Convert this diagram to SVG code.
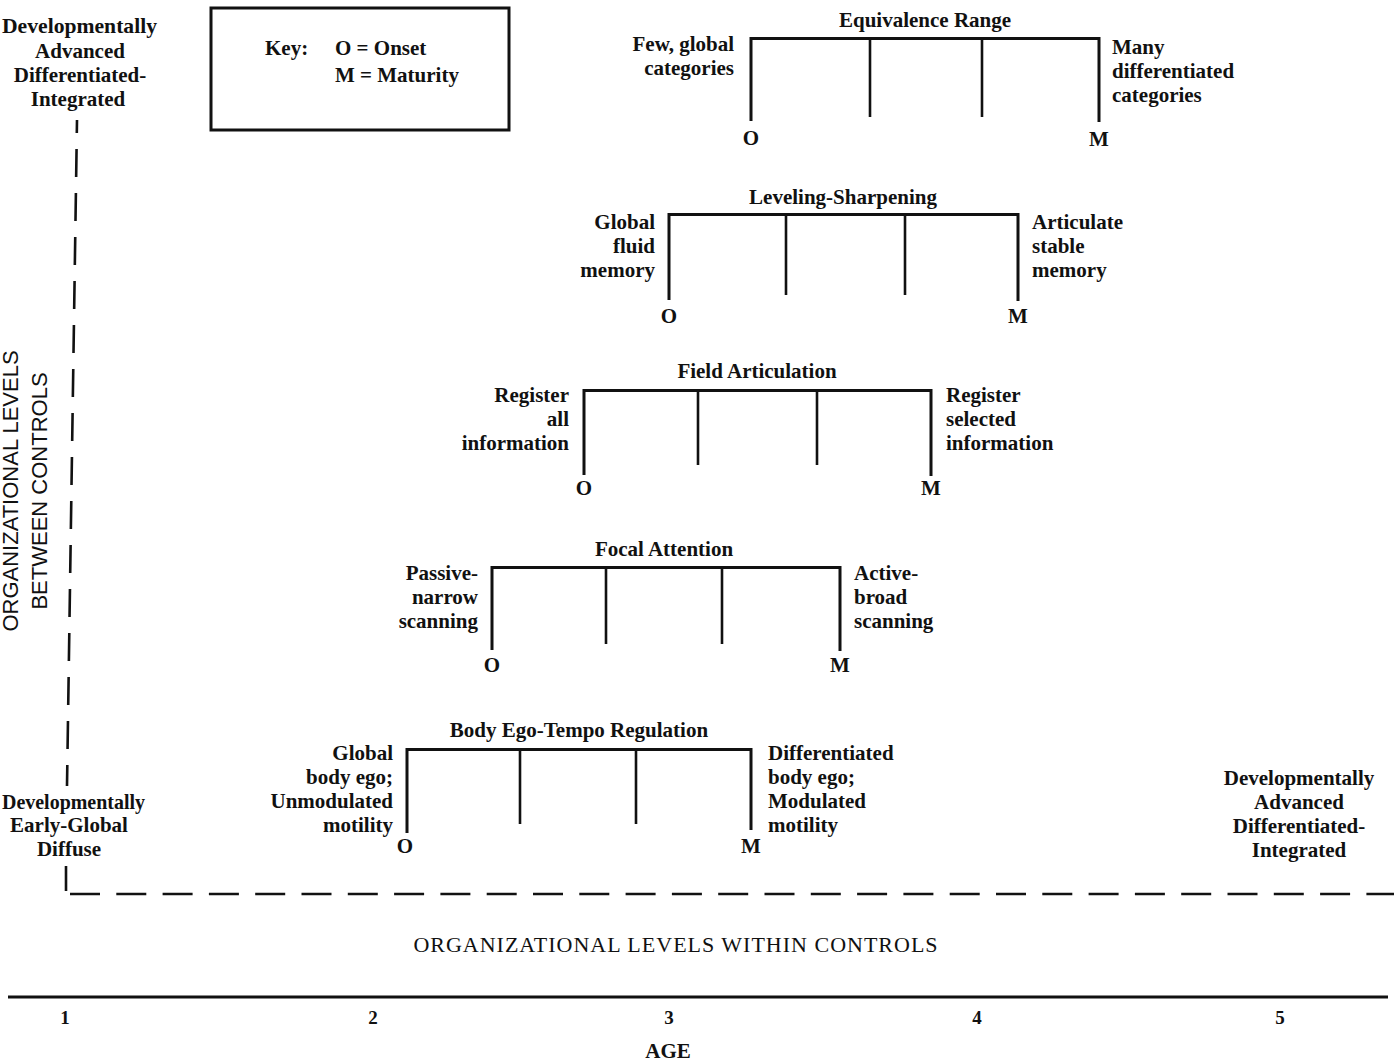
<svg xmlns="http://www.w3.org/2000/svg" width="1394" height="1064" viewBox="0 0 1394 1064">
<style>
text{font-family:"Liberation Serif","Times New Roman",serif;fill:#111}
.lb{font-size:21px;font-weight:bold}
.r{text-anchor:end}
.m{text-anchor:middle}
.bar{fill:none;stroke:#111;stroke-width:3;stroke-linejoin:miter}
.tick{stroke:#111;stroke-width:2.6}
.ax{font-family:"Liberation Sans",Arial,sans-serif;font-size:22px}
.num{font-size:19px;font-weight:bold;text-anchor:middle}
</style>
<rect width="1394" height="1064" fill="#fff"/>

<g id="key">
<rect x="211" y="8" width="298" height="122" fill="none" stroke="#111" stroke-width="3"/>
<text class="lb" x="265" y="55">Key:</text>
<text class="lb" x="335" y="55">O = Onset</text>
<text class="lb" x="335" y="82">M = Maturity</text>
</g>

<g id="equivalence-range">
<path class="bar" d="M751,121 V38.5 H1099 V122"/>
<line class="tick" x1="870" y1="38" x2="870" y2="117"/>
<line class="tick" x1="982" y1="38" x2="982" y2="117"/>
<text class="lb m" x="925" y="27">Equivalence Range</text>
<text class="lb m" x="751" y="145">O</text>
<text class="lb m" x="1099" y="146">M</text>
<text class="lb r" x="734" y="51">Few, global</text>
<text class="lb r" x="734" y="75">categories</text>
<text class="lb" x="1112" y="54">Many</text>
<text class="lb" x="1112" y="78">differentiated</text>
<text class="lb" x="1112" y="102">categories</text>
</g>

<g id="leveling-sharpening">
<path class="bar" d="M669,300 V214.5 H1018 V301"/>
<line class="tick" x1="786" y1="214" x2="786" y2="295"/>
<line class="tick" x1="905" y1="214" x2="905" y2="295"/>
<text class="lb m" x="843" y="204">Leveling-Sharpening</text>
<text class="lb m" x="669" y="323">O</text>
<text class="lb m" x="1018" y="323">M</text>
<text class="lb r" x="655" y="229">Global</text>
<text class="lb r" x="655" y="253">fluid</text>
<text class="lb r" x="655" y="277">memory</text>
<text class="lb" x="1032" y="229">Articulate</text>
<text class="lb" x="1032" y="253">stable</text>
<text class="lb" x="1032" y="277">memory</text>
</g>

<g id="field-articulation">
<path class="bar" d="M584,475 V390.5 H931 V476"/>
<line class="tick" x1="698" y1="390" x2="698" y2="465"/>
<line class="tick" x1="817" y1="390" x2="817" y2="465"/>
<text class="lb m" x="757" y="378">Field Articulation</text>
<text class="lb m" x="584" y="495">O</text>
<text class="lb m" x="931" y="495">M</text>
<text class="lb r" x="569" y="402">Register</text>
<text class="lb r" x="569" y="426">all</text>
<text class="lb r" x="569" y="450">information</text>
<text class="lb" x="946" y="402">Register</text>
<text class="lb" x="946" y="426">selected</text>
<text class="lb" x="946" y="450">information</text>
</g>

<g id="focal-attention">
<path class="bar" d="M492,650 V567.5 H840 V651"/>
<line class="tick" x1="606" y1="567" x2="606" y2="644"/>
<line class="tick" x1="722" y1="567" x2="722" y2="644"/>
<text class="lb m" x="664" y="556">Focal Attention</text>
<text class="lb m" x="492" y="672">O</text>
<text class="lb m" x="840" y="672">M</text>
<text class="lb r" x="478" y="580">Passive-</text>
<text class="lb r" x="478" y="604">narrow</text>
<text class="lb r" x="478" y="628">scanning</text>
<text class="lb" x="854" y="580">Active-</text>
<text class="lb" x="854" y="604">broad</text>
<text class="lb" x="854" y="628">scanning</text>
</g>

<g id="body-ego-tempo-regulation">
<path class="bar" d="M407,833 V749.5 H751 V830"/>
<line class="tick" x1="520" y1="749" x2="520" y2="824"/>
<line class="tick" x1="636" y1="749" x2="636" y2="824"/>
<text class="lb m" x="579" y="737">Body Ego-Tempo Regulation</text>
<text class="lb m" x="405" y="853">O</text>
<text class="lb m" x="751" y="853">M</text>
<text class="lb r" x="393" y="760">Global</text>
<text class="lb r" x="393" y="784">body ego;</text>
<text class="lb r" x="393" y="808">Unmodulated</text>
<text class="lb r" x="393" y="832">motility</text>
<text class="lb" x="768" y="760">Differentiated</text>
<text class="lb" x="768" y="784">body ego;</text>
<text class="lb" x="768" y="808">Modulated</text>
<text class="lb" x="768" y="832">motility</text>
</g>

<g id="axes">
<line x1="77" y1="120" x2="67" y2="786" stroke="#111" stroke-width="2.6" stroke-dasharray="28 16" stroke-dashoffset="15"/>
<line x1="66" y1="866" x2="66" y2="891" stroke="#111" stroke-width="2.6"/>
<line x1="70" y1="894" x2="1394" y2="894" stroke="#111" stroke-width="2.6" stroke-dasharray="30 16.3"/>
<line x1="8" y1="997" x2="1388" y2="997" stroke="#111" stroke-width="3"/>
</g>

<g id="y-axis-labels">
<g transform="translate(18,491) rotate(-90)">
<text class="ax m" x="0" y="0">ORGANIZATIONAL LEVELS</text>
<text class="ax m" x="0" y="29">BETWEEN CONTROLS</text>
</g>
<text class="lb" x="2" y="33" textLength="155" lengthAdjust="spacingAndGlyphs">Developmentally</text>
<text class="lb m" x="80" y="58">Advanced</text>
<text class="lb m" x="80" y="82">Differentiated-</text>
<text class="lb m" x="78" y="106">Integrated</text>
<text class="lb" x="2" y="809" textLength="143" lengthAdjust="spacingAndGlyphs">Developmentally</text>
<text class="lb m" x="69" y="832">Early-Global</text>
<text class="lb m" x="69" y="856">Diffuse</text>
</g>

<g id="x-axis-labels">
<text class="lb m" x="1299" y="785">Developmentally</text>
<text class="lb m" x="1299" y="809">Advanced</text>
<text class="lb m" x="1299" y="833">Differentiated-</text>
<text class="lb m" x="1299" y="857">Integrated</text>
<text class="m" x="676" y="952" font-size="22" letter-spacing="1">ORGANIZATIONAL LEVELS WITHIN CONTROLS</text>
<text class="num" x="65" y="1024">1</text>
<text class="num" x="373" y="1024">2</text>
<text class="num" x="669" y="1024">3</text>
<text class="num" x="977" y="1024">4</text>
<text class="num" x="1280" y="1024">5</text>
<text class="lb m" x="668" y="1058">AGE</text>
</g>
</svg>
